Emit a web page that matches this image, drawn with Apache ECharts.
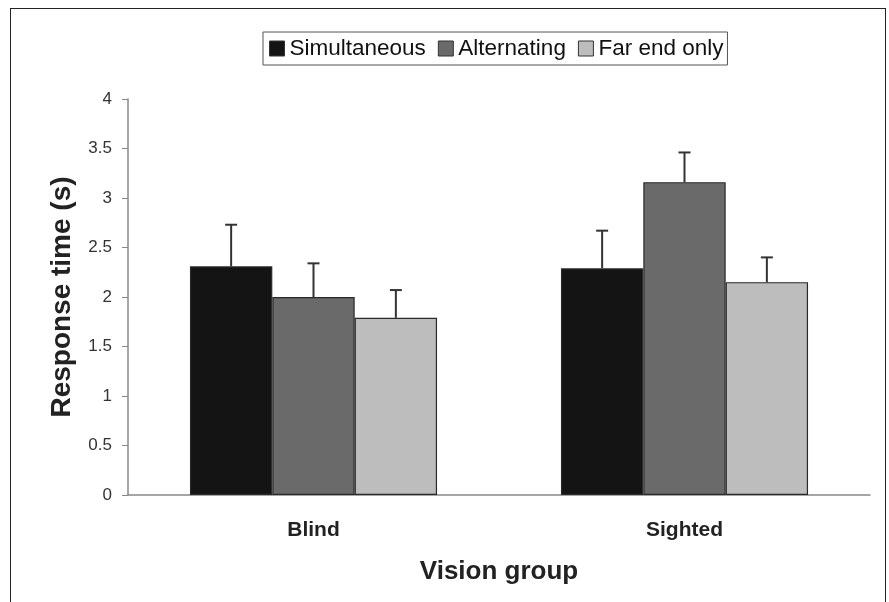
<!DOCTYPE html>
<html><head><meta charset="utf-8">
<script src="https://cdn.jsdelivr.net/npm/echarts@6/dist/echarts.min.js"></script>
<style>html,body{margin:0;padding:0;background:#fff}#c{width:889px;height:602px;position:relative}
#frame{position:absolute;left:10px;top:8px;width:876px;height:600px;border:1.5px solid #222;border-bottom:none;box-sizing:border-box;pointer-events:none}</style>
</head><body><div id="c"></div><div id="frame"></div>
<script>
const categories = ['Blind', 'Sighted'];
const seriesNames = ['Simultaneous', 'Alternating', 'Far end only'];
const simultaneous = [2.31, 2.29];
const alternating = [2.00, 3.16];
const farEndOnly = [1.79, 2.15];
const simultaneousErr = [0.42, 0.38];
const alternatingErr = [0.34, 0.30];
const farEndOnlyErr = [0.28, 0.25];
const yTicks = [0, 0.5, 1, 1.5, 2, 2.5, 3, 3.5, 4];

const means = [simultaneous, alternating, farEndOnly];
const errs = [simultaneousErr, alternatingErr, farEndOnlyErr];
const colors = ['#141414', '#6a6a6a', '#bdbdbd'];
const gapFrac = 0.334;

const chart = echarts.init(document.getElementById('c'), null, {renderer: 'canvas'});
const series = [];
means.forEach((m, i) => {
  series.push({
    name: seriesNames[i], type: 'bar', data: m, barGap: '0%', barCategoryGap: '33.4%',
    itemStyle: {color: colors[i], borderColor: '#2a2a2a', borderWidth: 1.2}
  });
});
means.forEach((m, i) => {
  series.push({
    type: 'custom', silent: true, z: 1,
    data: m.map((v, k) => [k, v, v + errs[i][k]]),
    renderItem: function (params, api) {
      const band = api.size([1, 0])[0];
      const bw = band * (1 - gapFrac) / 3;
      const c = api.coord([api.value(0), api.value(1)]);
      const t = api.coord([api.value(0), api.value(2)]);
      const x = c[0] + (i - 1) * bw;
      const style = {stroke: '#333', lineWidth: 2};
      return {type: 'group', children: [
        {type: 'line', shape: {x1: x, y1: c[1], x2: x, y2: t[1]}, style},
        {type: 'line', shape: {x1: x - 6, y1: t[1], x2: x + 6, y2: t[1]}, style}
      ]};
    }
  });
});

chart.setOption({
  animation: false,
  backgroundColor: '#fff',
  textStyle: {fontFamily: 'Liberation Sans, Arial, sans-serif'},
  legend: {
    data: seriesNames, left: 263, top: 32, width: 480,
    borderColor: '#555', borderWidth: 1, borderRadius: 0,
    padding: [5, 4, 5, 6], itemGap: 12, itemWidth: 15, itemHeight: 15,
    icon: 'rect',
    itemStyle: {borderColor: '#333', borderWidth: 1},
    textStyle: {fontSize: 22.5, color: '#111', fontFamily: 'Liberation Sans, Arial, sans-serif'}
  },
  grid: {left: 128, right: 19, top: 99, bottom: 107},
  xAxis: {
    type: 'category', data: categories,
    name: 'Vision group', nameLocation: 'middle', nameGap: 64,
    nameTextStyle: {fontSize: 26, fontWeight: 'bold', color: '#222'},
    axisLine: {lineStyle: {color: '#888', width: 1.5}},
    axisTick: {show: false},
    axisLabel: {fontSize: 21, fontWeight: 'bold', color: '#222', margin: 25}
  },
  yAxis: {
    type: 'value', min: 0, max: 4, interval: 0.5,
    name: 'Response time (s)', nameLocation: 'middle', nameGap: 52,
    nameTextStyle: {fontSize: 28, fontWeight: 'bold', color: '#222'},
    axisLine: {show: true, lineStyle: {color: '#888', width: 1.5}},
    axisTick: {show: true, inside: false, length: 6, lineStyle: {color: '#888'}},
    splitLine: {show: false},
    axisLabel: {fontSize: 17, color: '#333', margin: 16,
      formatter: v => yTicks.includes(v) ? String(v) : ''}
  },
  series: series
});
</script></body></html>
